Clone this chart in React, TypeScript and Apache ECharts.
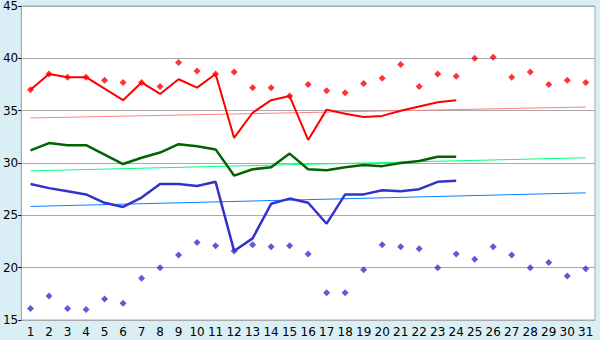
import React, { useEffect, useRef } from "react";
import * as echarts from "echarts";

const days = Array.from({ length: 31 }, (_, i) => String(i + 1));

const redLine = [37.0, 38.5, 38.2, 38.2, 37.1, 36.0, 37.7, 36.6, 38.0, 37.2, 38.5, 32.4, 34.8, 36.0, 36.4, 32.2, 35.1, 34.7, 34.4, 34.5, 35.0, 35.4, 35.8, 36.0];
const greenLine = [31.2, 31.9, 31.7, 31.7, 30.8, 29.9, 30.5, 31.0, 31.8, 31.6, 31.3, 28.8, 29.4, 29.6, 30.9, 29.4, 29.3, 29.6, 29.8, 29.7, 30.0, 30.2, 30.6, 30.6];
const blueLine = [28.0, 27.6, 27.3, 27.0, 26.2, 25.8, 26.7, 28.0, 28.0, 27.8, 28.2, 21.6, 22.8, 26.1, 26.6, 26.2, 24.2, 27.0, 27.0, 27.4, 27.3, 27.5, 28.2, 28.3];

const redPoints = [37.0, 38.5, 38.2, 38.2, 37.9, 37.7, 37.7, 37.3, 39.6, 38.8, 38.5, 38.7, 37.2, 37.2, 36.4, 37.5, 36.9, 36.7, 37.6, 38.1, 39.4, 37.3, 38.5, 38.3, 40.0, 40.1, 38.2, 38.7, 37.5, 37.9, 37.7];
const bluePoints = [16.1, 17.3, 16.1, 16.0, 17.0, 16.6, 19.0, 20.0, 21.2, 22.4, 22.1, 21.6, 22.2, 22.0, 22.1, 21.3, 17.6, 17.6, 19.8, 22.2, 22.0, 21.8, 20.0, 21.3, 20.8, 22.0, 21.2, 20.0, 20.5, 19.2, 19.9];

// trend lines: [start value (day 1), end value (day 31)]
const redTrend = [34.3, 35.35];
const greenTrend = [29.25, 30.5];
const blueTrend = [25.85, 27.15];

const yMin = 15;
const yMax = 45;
const yStep = 5;

export default function App() {
  const ref = useRef<HTMLDivElement>(null);
  useEffect(() => {
    document.body.style.margin = "0";
    const chart = echarts.init(ref.current!, undefined, { renderer: "svg" });
    const last = days.length - 1;
    const trend = (vals: number[], color: string) => ({
      type: "line",
      data: [[0, vals[0]], [last, vals[1]]],
      showSymbol: false,
      silent: true,
      lineStyle: { color, width: 1 },
      z: 1,
    });
    const main = (vals: number[], color: string, width: number) => ({
      type: "line",
      data: vals,
      showSymbol: false,
      lineStyle: { color, width },
      z: 2,
    });
    const pts = (vals: number[], color: string) => ({
      type: "scatter",
      data: vals,
      symbol: "diamond",
      symbolSize: 7,
      itemStyle: { color },
      z: 3,
    });
    chart.setOption({
      animation: false,
      backgroundColor: "#daeef6",
      grid: {
        left: 20,
        right: 5,
        top: 5,
        bottom: 20,
        show: true,
        backgroundColor: "#ffffff",
        borderColor: "#aaaaaa",
        borderWidth: 1,
      },
      xAxis: {
        type: "category",
        data: days,
        boundaryGap: true,
        axisLine: { lineStyle: { color: "#aaaaaa" } },
        axisTick: { alignWithLabel: true, length: 5, lineStyle: { color: "#000" } },
        axisLabel: { color: "#000", fontFamily: "DejaVu Sans", fontSize: 12, margin: 6, interval: 0 },
        splitLine: { show: false },
      },
      yAxis: {
        type: "value",
        min: yMin,
        max: yMax,
        interval: yStep,
        axisLine: { show: true, lineStyle: { color: "#aaaaaa" } },
        axisTick: { show: true, length: 3, lineStyle: { color: "#000" } },
        axisLabel: { color: "#000", fontFamily: "DejaVu Sans", fontSize: 12, margin: 3 },
        splitLine: { lineStyle: { color: "#aaaaaa", width: 1 } },
      },
      series: [
        trend(redTrend, "#ff8080"),
        trend(greenTrend, "#00ff80"),
        trend(blueTrend, "#0080ff"),
        main(redLine, "#ff0000", 2),
        main(greenLine, "#006400", 2.5),
        main(blueLine, "#3333cc", 2.5),
        pts(redPoints, "#ff0000"),
        pts(bluePoints, "#3333cc"),
      ],
    });
    return () => chart.dispose();
  }, []);
  return <div ref={ref} style={{ width: 600, height: 340 }} />;
}
